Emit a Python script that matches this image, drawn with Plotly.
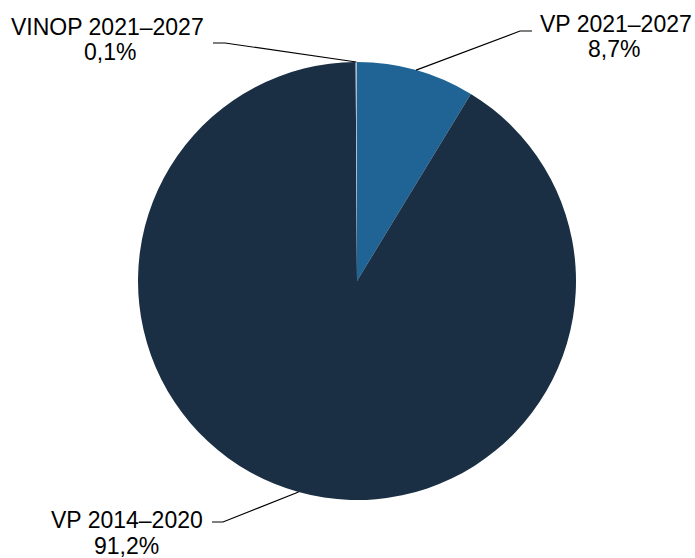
import math
import plotly.graph_objects as go

# ---- data ----
labels = ["VP 2021–2027", "VP 2014–2020", "VINOP 2021–2027"]
values = [8.7, 91.2, 0.1]
pct_text = ["8,7%", "91,2%", "0,1%"]
colors = ["#1f6494", "#1b2f44", "#a3bccf"]

# ---- layout geometry (pixels) ----
W, H = 695, 558
cx, cy, R = 357, 281, 219
FONT = "Liberation Sans, Arial, sans-serif"
FS = 23

def px(x):
    return x / W

def py(y):
    return 1 - y / H

fig = go.Figure(go.Pie(
    labels=labels,
    values=values,
    sort=False,
    direction="clockwise",
    rotation=0,
    textinfo="none",
    hoverinfo="label+percent",
    marker=dict(colors=colors, line=dict(width=0)),
    domain=dict(x=[px(cx - R), px(cx + R)], y=[py(cy + R), py(cy - R)]),
    showlegend=False,
))

# label placement: (elbow point, end point, name center, pct center)
place = {
    "VP 2021–2027": dict(elbow=(520, 31), end=(532, 31), name=(616, 24), pct=(614, 49)),
    "VP 2014–2020": dict(elbow=(223, 522), end=(212, 522), name=(127, 520), pct=(126, 546)),
    "VINOP 2021–2027": dict(elbow=(225, 43), end=(213, 43), name=(108, 27), pct=(110, 52)),
}

total = sum(values)
cum = 0.0
shapes = []
annotations = []
for lab, val, pt in zip(labels, values, pct_text):
    mid = (cum + val / 2) / total * 2 * math.pi
    cum += val
    ex = cx + R * math.sin(mid)
    ey = cy - R * math.cos(mid)
    p = place[lab]
    pts = [(ex, ey), p["elbow"], p["end"]]
    path = "M " + " L ".join(f"{px(x)},{py(y)}" for x, y in pts)
    shapes.append(dict(type="path", xref="paper", yref="paper", path=path,
                       line=dict(color="black", width=1.2)))
    annotations.append(dict(x=px(p["name"][0]), y=py(p["name"][1]), xref="paper", yref="paper",
                            text=lab, showarrow=False, xanchor="center", yanchor="middle",
                            font=dict(family=FONT, size=FS, color="black")))
    annotations.append(dict(x=px(p["pct"][0]), y=py(p["pct"][1]), xref="paper", yref="paper",
                            text=pt, showarrow=False, xanchor="center", yanchor="middle",
                            font=dict(family=FONT, size=FS, color="black")))

fig.update_layout(
    width=W, height=H,
    margin=dict(l=0, r=0, t=0, b=0),
    paper_bgcolor="white",
    plot_bgcolor="white",
    shapes=shapes,
    annotations=annotations,
)

fig.write_html(
    "out.html",
    config={"displayModeBar": False},
    post_script="document.body.style.margin='0';document.body.style.overflow='hidden';",
)
